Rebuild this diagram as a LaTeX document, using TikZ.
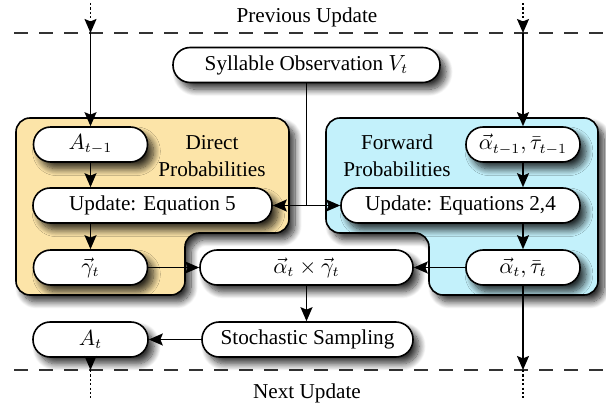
\documentclass[tikz,border=0pt]{standalone}
\usepackage[no-math]{fontspec}
\setmainfont{Liberation Serif}
\usetikzlibrary{arrows.meta,shadows.blur}

\definecolor{directfill}{HTML}{FCE4A8}
\definecolor{forwardfill}{HTML}{C3F1FB}
\definecolor{rulegray}{HTML}{333333}

\tikzset{
  softshadow/.style={blur shadow={shadow xshift=3pt,shadow yshift=-3.4pt,
      shadow blur radius=3.4pt,shadow blur steps=12,shadow opacity=80}},
  stepnode/.style={draw,line width=0.8pt,fill=white,rounded corners=8.6pt,
      minimum height=17.5pt,inner sep=0pt,softshadow},
  region/.style={draw,line width=0.8pt,rounded corners=7pt,softshadow},
  headed/.style={-{Stealth[length=7pt,width=6pt,inset=1.2pt,fill=black]}},
  flow/.style={line width=0.75pt,headed},
  carry/.style={line width=0.75pt,dash pattern=on 1.1pt off 1.1pt,headed},
  trail/.style={line width=0.75pt,dash pattern=on 1.1pt off 1.1pt},
  stageline/.style={line width=0.7pt,rulegray,dash pattern=on 7pt off 5.5pt},
  grouptitle/.style={align=center,font=\fontsize{10.6}{13.5}\selectfont},
  every node/.append style={font=\fontsize{10.6}{13}\selectfont}
}

\begin{document}
\begin{tikzpicture}[x=0.5pt,y=-0.5pt]
\useasboundingbox (0,0) rectangle (606,412);

% stage boundaries
\draw[stageline] (14,33) -- (606,33);
\draw[stageline] (14,370) -- (606,370);
\node (prev) at (307,17) {Previous Update};
\node (next) at (307,393) {Next Update};

% grouping regions
\draw[region,fill=directfill]
  (16,118) -- (289,118) -- (289,233) -- (185,233) -- (185,295) -- (16,295) -- cycle;
\draw[region,fill=forwardfill]
  (326,118) -- (598,118) -- (598,295) -- (429,295) -- (429,233) -- (326,233) -- cycle;
\node[grouptitle] (directlbl) at (212,156) {Direct\\Probabilities};
\node[grouptitle] (forwardlbl) at (397,156) {Forward\\Probabilities};

% steps
\node[stepnode,minimum width=133.5pt] (obs) at (306.5,65) {Syllable Observation $V_t$};
\node[stepnode,minimum width=57pt] (aprev) at (90.5,144.5) {$A_{t-1}$};
\node[stepnode,minimum width=119.5pt] (upd5) at (152.5,205.5) {Update: Equation 5};
\node[stepnode,minimum width=57pt] (gam) at (90.5,267.5) {$\vec{\gamma}_t$};
\node[stepnode,minimum width=57pt] (alprev) at (523,144.5) {$\vec{\alpha}_{t-1},\bar{\tau}_{t-1}$};
\node[stepnode,minimum width=119.5pt] (upd24) at (460.5,205.5) {Update: Equations 2,4};
\node[stepnode,minimum width=57pt] (alcur) at (523,267.5) {$\vec{\alpha}_t,\bar{\tau}_t$};
\node[stepnode,minimum width=106.5pt] (prod) at (306.5,267.5) {$\vec{\alpha}_t\times\vec{\gamma}_t$};
\node[stepnode,minimum width=105.5pt] (samp) at (307.5,339.5) {Stochastic Sampling};
\node[stepnode,minimum width=57.5pt] (acur) at (90.5,339.5) {$A_t$};

% carried-over state
\coordinate (inL) at (90.5,3);
\coordinate (cutL) at (90.5,33);
\coordinate (inR) at (523,3);
\coordinate (cutR) at (523,33);
\coordinate (outL) at (90.5,370);
\coordinate (endL) at (90.5,398);
\coordinate (outR) at (523,370);
\coordinate (endR) at (523,398);

\draw[carry] (inL) -- (cutL);
\draw[carry] (inR) -- (cutR);
\draw[flow] (cutL) -- (aprev.north);
\draw[flow] (cutR) -- (alprev.north);

% connectors
\draw[flow] (obs.south) |- (upd5.east);
\draw[flow] (obs.south) |- (upd24.west);
\draw[flow] (aprev.south) -- (aprev.south |- upd5.north);
\draw[flow] (gam.north |- upd5.south) -- (gam.north);
\draw[flow] (alprev.south) -- (alprev.south |- upd24.north);
\draw[flow] (alcur.north |- upd24.south) -- (alcur.north);
\draw[flow] (gam.east) -- (prod.west);
\draw[flow] (alcur.west) -- (prod.east);
\draw[flow] (prod.south) -- (prod.south |- samp.north);
\draw[flow] (samp.west) -- (acur.east);

% passed on to the next update
\draw[flow] (acur.south) -- (outL);
\draw[flow] (alcur.south) -- (outR);
\draw[trail] (outL) -- (endL);
\draw[trail] (outR) -- (endR);
\end{tikzpicture}
\end{document}
